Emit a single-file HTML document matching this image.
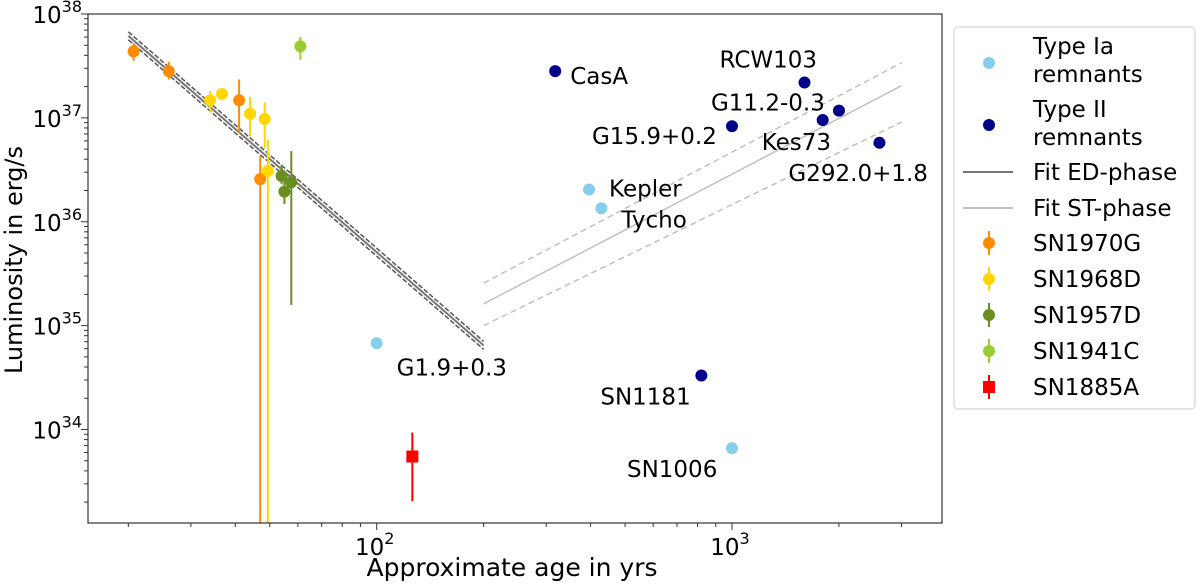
<!DOCTYPE html>
<html><head><meta charset="utf-8"><style>
body{margin:0;background:#fff;}
svg{display:block;font-family:"DejaVu Sans","Liberation Sans",sans-serif;}
</style></head><body>
<svg id="c" width="1200" height="585" xmlns="http://www.w3.org/2000/svg"></svg>
<script>
const typeIaNames=["G1.9+0.3","Kepler","Tycho","SN1006"];
const typeIaAge=[100,396,429,1000];
const typeIaLum=[34.83,36.31,36.13,33.82];
const typeIINames=["CasA","RCW103","G11.2-0.3","G15.9+0.2","Kes73","G292.0+1.8","SN1181"];
const typeIIAge=[318,1600,2000,1000,1800,2600,820];
const typeIILum=[37.45,37.34,37.07,36.92,36.98,36.76,34.52];
const sn1970Age=[20.7,26,41,47];
const sn1970Lum=[37.64,37.45,37.17,36.41];
const sn1970Lo=[37.55,37.37,36.85,33.1];
const sn1970Hi=[37.72,37.54,37.37,36.63];
const sn1968Age=[34,36.7,44,48.4,49.4];
const sn1968Lum=[37.17,37.23,37.04,36.99,36.49];
const sn1968Lo=[37.05,37.23,36.82,36.71,33.1];
const sn1968Hi=[37.26,37.23,37.2,37.15,36.79];
const sn1957Age=[54,55,57.5];
const sn1957Lum=[36.44,36.29,36.38];
const sn1957Lo=[36.36,36.17,35.2];
const sn1957Hi=[36.55,36.44,36.68];
const sn1941Age=[61];const sn1941Lum=[37.69];const sn1941Lo=[37.56];const sn1941Hi=[37.78];
const sn1885Age=[126];const sn1885Lum=[33.74];const sn1885Lo=[33.31];const sn1885Hi=[33.97];
const edAge=[20,200];const edLum=[37.79,34.81];
const stAge=[200,3000];const stLum=[35.21,37.31];const stUp=[35.41,37.53];const stLow=[35.0,36.96];

const L=88,R=942,T=14,B=523;
const xmin=Math.log10(15.4),xmax=Math.log10(3900),ymin=33.1,ymax=38.0;
const X=a=>L+(Math.log10(a)-xmin)/(xmax-xmin)*(R-L);
const Y=l=>B-(l-ymin)/(ymax-ymin)*(B-T);
const svg=document.getElementById('c');const NS='http://www.w3.org/2000/svg';
function el(t,a,p){const e=document.createElementNS(NS,t);for(const k in a)e.setAttribute(k,a[k]);(p||svg).appendChild(e);return e;}
const clip=el('clipPath',{id:'pc'});el('rect',{x:L,y:T,width:R-L,height:B-T},clip);
const g=el('g',{'clip-path':'url(#pc)'});

let e;
for(const off of [-4,4]){e=el('line',{x1:X(edAge[0]),y1:Y(edLum[0])+off,x2:X(edAge[1]),y2:Y(edLum[1])+off,stroke:'#555','stroke-width':1.5,'stroke-dasharray':'5,2'},g);
}
e=el('line',{x1:X(edAge[0]),y1:Y(edLum[0]),x2:X(edAge[1]),y2:Y(edLum[1]),stroke:'#777','stroke-width':2},g);

e=el('line',{x1:X(stAge[0]),y1:Y(stLum[0]),x2:X(stAge[1]),y2:Y(stLum[1]),stroke:'#c0c0c0','stroke-width':1.5},g);

for(const arr of [stUp,stLow]){e=el('line',{x1:X(stAge[0]),y1:Y(arr[0]),x2:X(stAge[1]),y2:Y(arr[1]),stroke:'#c0c0c0','stroke-width':1.5,'stroke-dasharray':'6,4'},g);
}

function errSeries(age,lum,lo,hi,col,name,sq){
 for(let i=0;i<age.length;i++){
  e=el('line',{x1:X(age[i]),x2:X(age[i]),y1:Y(hi[i]),y2:Y(lo[i]),stroke:col,'stroke-width':2},g);
  
  if(sq){e=el('rect',{x:X(age[i])-6,y:Y(lum[i])-6,width:12,height:12,fill:col},g);}
  else{e=el('circle',{cx:X(age[i]),cy:Y(lum[i]),r:6,fill:col},g);}
  
 }}
errSeries(sn1970Age,sn1970Lum,sn1970Lo,sn1970Hi,'#ff8c00','sn1970g');
errSeries(sn1968Age,sn1968Lum,sn1968Lo,sn1968Hi,'#ffd700','sn1968d');
errSeries(sn1957Age,sn1957Lum,sn1957Lo,sn1957Hi,'#6b8e23','sn1957d');
errSeries(sn1941Age,sn1941Lum,sn1941Lo,sn1941Hi,'#9acd32','sn1941c');
errSeries(sn1885Age,sn1885Lum,sn1885Lo,sn1885Hi,'#ff0000','sn1885a',true);

const iaOff=[[20,32],[20,7],[20,19],[-105,29]];
const iiOff=[[15,13],[-85,-15],[-128,0],[-140,18],[-61,30],[-91,38],[-101,29]];
function scat(age,lum,names,col,off,key){
 for(let i=0;i<age.length;i++){
  e=el('circle',{cx:X(age[i]),cy:Y(lum[i]),r:6,fill:col},g);
  
  const t=el('text',{x:X(age[i])+off[i][0],y:Y(lum[i])+off[i][1],'font-size':23,fill:'#000'});t.textContent=names[i];
  
 }}
scat(typeIaAge,typeIaLum,typeIaNames,'#87ceeb',iaOff,'type-ia');
scat(typeIIAge,typeIILum,typeIINames,'#00008b',iiOff,'type-ii');

e=el('rect',{x:L,y:T,width:R-L,height:B-T,fill:'none',stroke:'#333','stroke-width':1.2});

const yDec=[34,35,36,37,38];
for(let d=33;d<=38;d++){for(let m=1;m<10;m++){const v=d+Math.log10(m);if(v<ymin||v>ymax+0.001)continue;
 el('line',{x1:L,x2:L-(m==1?7:4),y1:Y(v),y2:Y(v),stroke:'#333','stroke-width':1});}}
yDec.forEach(d=>{const t=el('text',{x:L-6,y:Y(d)+9,'font-size':23,'text-anchor':'end'});
 t.innerHTML='10<tspan dy="-11" font-size="16">'+d+'</tspan>';
 });
const xDec=[2,3];
for(let d=1;d<=3;d++){for(let m=1;m<10;m++){const v=d+Math.log10(m);if(v<xmin||v>xmax)continue;
 el('line',{x1:X(Math.pow(10,v)),x2:X(Math.pow(10,v)),y1:B,y2:B+(m==1?7:4),stroke:'#333','stroke-width':1});}}
xDec.forEach(d=>{const t=el('text',{x:X(Math.pow(10,d))-2,y:B+32,'font-size':23,'text-anchor':'middle'});
 t.innerHTML='10<tspan dy="-11" font-size="16">'+d+'</tspan>';
 });
</script>
<svg style="position:absolute;left:0;top:0" width="1200" height="585" xmlns="http://www.w3.org/2000/svg">
<text x="512" y="576" font-size="25" text-anchor="middle">Approximate age in yrs</text>
<text transform="translate(22,260) rotate(-90)" font-size="24" text-anchor="middle">Luminosity in erg/s</text>
<g font-size="23">
<rect x="954" y="27" width="241" height="382" rx="4" fill="#fff" stroke="#ccc"/>
<g><circle cx="989" cy="63" r="6" fill="#87ceeb"/><text x="1033" y="54">Type Ia</text><text x="1033" y="82">remnants</text></g>
<g><circle cx="989" cy="125" r="6" fill="#00008b"/><text x="1033" y="117">Type II</text><text x="1033" y="145">remnants</text></g>
<g><line x1="963" x2="1013" y1="172" y2="172" stroke="#777" stroke-width="2"/><text x="1033" y="180">Fit ED-phase</text></g>
<g><line x1="963" x2="1013" y1="208" y2="208" stroke="#c0c0c0" stroke-width="2"/><text x="1033" y="216">Fit ST-phase</text></g>
<g><line x1="989" x2="989" y1="231" y2="255" stroke="#ff8c00" stroke-width="2"/><circle cx="989" cy="243" r="6" fill="#ff8c00"/><text x="1033" y="251">SN1970G</text></g>
<g><line x1="989" x2="989" y1="267" y2="291" stroke="#ffd700" stroke-width="2"/><circle cx="989" cy="279" r="6" fill="#ffd700"/><text x="1033" y="287">SN1968D</text></g>
<g><line x1="989" x2="989" y1="303" y2="327" stroke="#6b8e23" stroke-width="2"/><circle cx="989" cy="315" r="6" fill="#6b8e23"/><text x="1033" y="323">SN1957D</text></g>
<g><line x1="989" x2="989" y1="339" y2="363" stroke="#9acd32" stroke-width="2"/><circle cx="989" cy="351" r="6" fill="#9acd32"/><text x="1033" y="359">SN1941C</text></g>
<g><line x1="989" x2="989" y1="375" y2="399" stroke="#ff0000" stroke-width="2"/><rect x="983" y="381" width="12" height="12" fill="#ff0000"/><text x="1033" y="395">SN1885A</text></g>
</g>
</svg>
</body></html>
